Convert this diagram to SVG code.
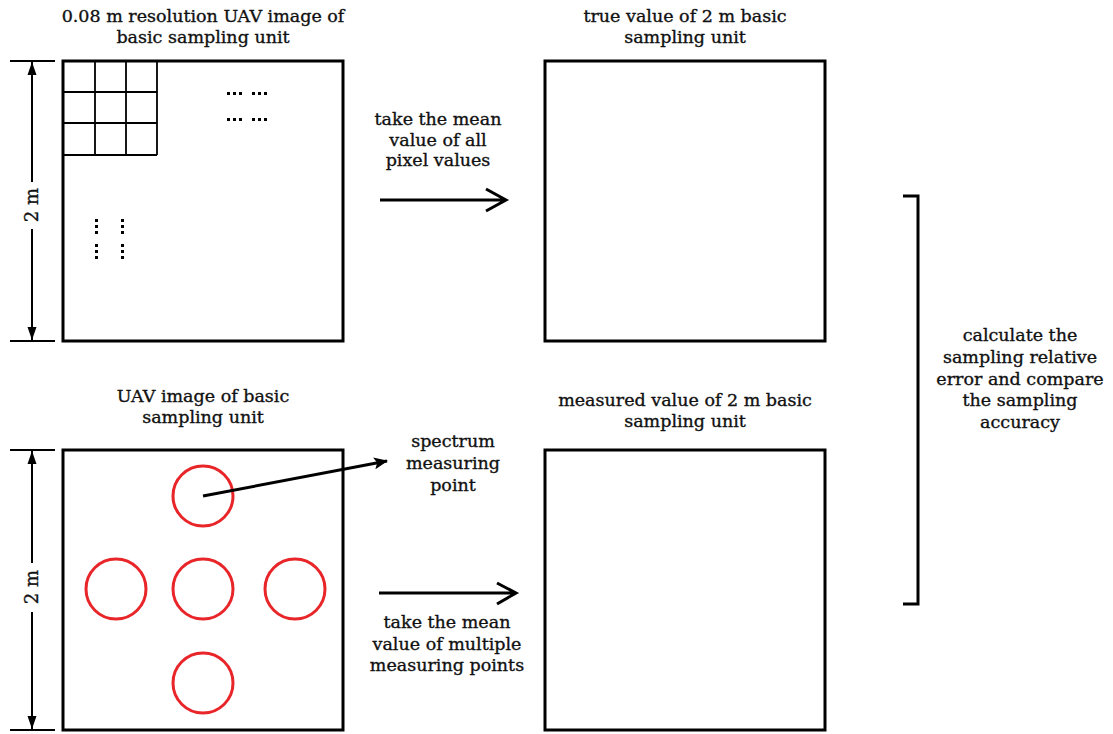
<svg xmlns="http://www.w3.org/2000/svg" width="1113" height="734" viewBox="0 0 1113 734">
<defs>
<style>
text{font-family:"DejaVu Serif","Liberation Serif",serif;font-size:17.5px;fill:#111;stroke:#111;stroke-width:0.35;text-anchor:middle}
.box{fill:#fff;stroke:#000;stroke-width:3}
.grid{fill:none;stroke:#000;stroke-width:1.8}
.dim{fill:none;stroke:#000;stroke-width:2}
.arr{fill:none;stroke:#000;stroke-width:3}
.pt{fill:none;stroke:#e8262a;stroke-width:3}
.dot{fill:#000}
</style>
<marker id="dimhead" viewBox="-14 -6 15 12" refX="0" refY="0" markerWidth="15" markerHeight="12" orient="auto-start-reverse" markerUnits="userSpaceOnUse">
<path d="M0,0 L-13,-4.5 L-13,4.5 Z" fill="#000"/>
</marker>
<marker id="solid" viewBox="0 0 14 12" refX="13" refY="6" markerWidth="14" markerHeight="12" orient="auto" markerUnits="userSpaceOnUse">
<path d="M0,0 L14,6 L0,12 L3,6 Z" fill="#000"/>
</marker>
</defs>

<g id="node-uav-fine">
<text x="203" y="22">0.08 m resolution UAV image of</text>
<text x="203" y="43">basic sampling unit</text>
<rect class="box" x="63" y="61" width="280" height="280"/>
<path class="grid" d="M95,61V155M126,61V155M157,61V155M63,92H157M63,123H157M63,155H157"/>
<g class="dot">
<rect x="227" y="92" width="3" height="3"/><rect x="233" y="92" width="3" height="3"/><rect x="239" y="92" width="3" height="3"/>
<rect x="252" y="92" width="3" height="3"/><rect x="258" y="92" width="3" height="3"/><rect x="264" y="92" width="3" height="3"/>
<rect x="227" y="118" width="3" height="3"/><rect x="233" y="118" width="3" height="3"/><rect x="239" y="118" width="3" height="3"/>
<rect x="252" y="118" width="3" height="3"/><rect x="258" y="118" width="3" height="3"/><rect x="264" y="118" width="3" height="3"/>
<rect x="95" y="219" width="3" height="3"/><rect x="95" y="225" width="3" height="3"/><rect x="95" y="231" width="3" height="3"/>
<rect x="95" y="244" width="3" height="3"/><rect x="95" y="250" width="3" height="3"/><rect x="95" y="256" width="3" height="3"/>
<rect x="121" y="219" width="3" height="3"/><rect x="121" y="225" width="3" height="3"/><rect x="121" y="231" width="3" height="3"/>
<rect x="121" y="244" width="3" height="3"/><rect x="121" y="250" width="3" height="3"/><rect x="121" y="256" width="3" height="3"/>
</g>
<path class="dim" d="M10,61H55M10,341H55"/>
<path class="dim" d="M32,62V182" marker-start="url(#dimhead)"/>
<path class="dim" d="M32,229V340" marker-end="url(#dimhead)"/>
<text transform="translate(38,205) rotate(-90)" style="font-size:18px">2 m</text>
</g>

<g id="node-true">
<text x="685" y="22">true value of 2 m basic</text>
<text x="685" y="43">sampling unit</text>
<rect class="box" x="545" y="61" width="280" height="280"/>
</g>

<g id="node-uav">
<text x="203" y="402">UAV image of basic</text>
<text x="203" y="423">sampling unit</text>
<rect class="box" x="63" y="450" width="280" height="280"/>
<circle class="pt" cx="203" cy="496" r="30"/>
<circle class="pt" cx="116" cy="589" r="30"/>
<circle class="pt" cx="203" cy="589" r="30"/>
<circle class="pt" cx="295" cy="589" r="30"/>
<circle class="pt" cx="203" cy="683" r="30"/>
<path class="dim" d="M10,450H55M10,730H55"/>
<path class="dim" d="M32,451V563" marker-start="url(#dimhead)"/>
<path class="dim" d="M32,612V729" marker-end="url(#dimhead)"/>
<text transform="translate(38,587) rotate(-90)" style="font-size:18px">2 m</text>
</g>

<g id="node-measured">
<text x="685" y="406">measured value of 2 m basic</text>
<text x="685" y="427">sampling unit</text>
<rect class="box" x="545" y="450" width="280" height="280"/>
</g>

<g id="node-spectrum">
<text x="453" y="447">spectrum</text>
<text x="453" y="469">measuring</text>
<text x="453" y="491">point</text>
</g>

<g id="node-compare">
<text x="1020" y="341">calculate the</text>
<text x="1020" y="363">sampling relative</text>
<text x="1020" y="385">error and compare</text>
<text x="1020" y="406">the sampling</text>
<text x="1020" y="428">accuracy</text>
</g>

<g id="connectors">
<text x="438" y="125">take the mean</text>
<text x="438" y="146">value of all</text>
<text x="438" y="166">pixel values</text>
<path class="arr" d="M380,200H506M486,189L506,200L486,211"/>
<path class="arr" d="M379,593H516M497,583L516,593L497,604"/>
<text x="447" y="628">take the mean</text>
<text x="447" y="650">value of multiple</text>
<text x="447" y="671">measuring points</text>
<path class="arr" d="M203,496L387,461" marker-end="url(#solid)"/>
<path class="arr" d="M903,196H918V604H903"/>
</g>
</svg>
